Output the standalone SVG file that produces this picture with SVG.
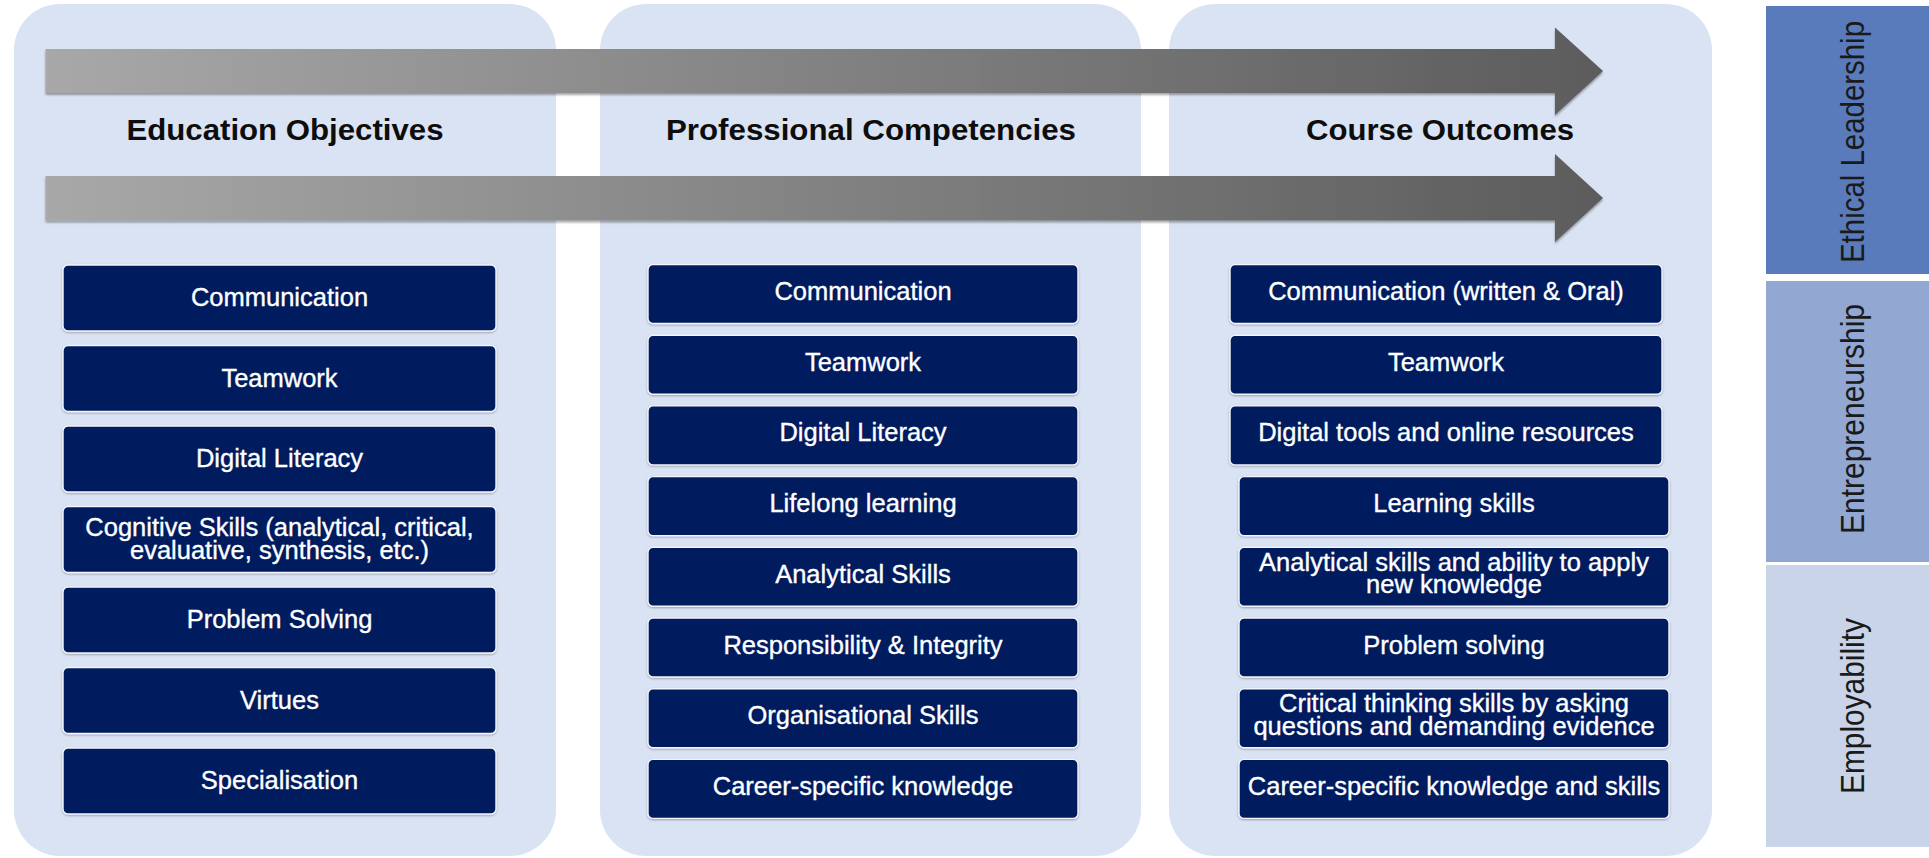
<svg xmlns="http://www.w3.org/2000/svg" width="1929" height="858" viewBox="0 0 1929 858">
  <style>
    .panel { fill: #DAE3F3; }
    .flow { fill: url(#flowGrad); filter: url(#arrowShadow); }
    .head { font-family: "Liberation Sans", Arial, sans-serif; font-weight: bold; font-size: 29px; fill: #0d0d0d; text-anchor: middle; }
    .box { fill: #021E5E; stroke: #F2F5FB; stroke-width: 1.4; filter: url(#boxShadow); }
    .lbl { font-family: "Liberation Sans", Arial, sans-serif; font-size: 25.5px; fill: #FFFFFF; text-anchor: middle; stroke: #FFFFFF; stroke-width: 0.35; }
    .bar-text { font-family: "Liberation Sans", Arial, sans-serif; font-size: 33px; fill: #1a1a1a; text-anchor: middle; }
  </style>
  <defs>
    <linearGradient id="flowGrad" gradientUnits="userSpaceOnUse" x1="45" y1="0" x2="1603" y2="0">
      <stop offset="0" stop-color="#A8A8A8"/>
      <stop offset="1" stop-color="#5C5C5C"/>
    </linearGradient>
    <filter id="arrowShadow" x="-5%" y="-30%" width="110%" height="160%">
      <feGaussianBlur in="SourceAlpha" stdDeviation="1.2"/>
      <feOffset dy="1.5" result="b"/>
      <feComponentTransfer><feFuncA type="linear" slope="0.35"/></feComponentTransfer>
      <feMerge><feMergeNode/><feMergeNode in="SourceGraphic"/></feMerge>
    </filter>
    <filter id="boxShadow" x="-5%" y="-10%" width="110%" height="125%">
      <feGaussianBlur in="SourceAlpha" stdDeviation="1"/>
      <feOffset dy="1.2"/>
      <feComponentTransfer><feFuncA type="linear" slope="0.3"/></feComponentTransfer>
      <feMerge><feMergeNode/><feMergeNode in="SourceGraphic"/></feMerge>
    </filter>
  </defs>

  <rect width="1929" height="858" fill="#FFFFFF"/>

  <!-- column backgrounds -->
  <g id="panels">
    <rect class="panel" x="14" y="4" width="542" height="852" rx="46"/>
    <rect class="panel" x="600" y="4" width="541" height="852" rx="46"/>
    <rect class="panel" x="1169" y="4" width="543" height="852" rx="46"/>
  </g>

  <!-- flow arrows -->
  <g id="connectors">
    <path class="flow" d="M45.5,49 H1555 V27.5 L1603,71 L1555,115 V93 H45.5 Z"/>
    <path class="flow" d="M45.5,176 H1555 V154 L1603,198 L1555,242 V220.5 H45.5 Z"/>
  </g>

  <!-- column headings -->
  <g id="headings">
    <text class="head" x="285" y="140" textLength="317" lengthAdjust="spacingAndGlyphs">Education Objectives</text>
    <text class="head" x="871" y="140" textLength="410" lengthAdjust="spacingAndGlyphs">Professional Competencies</text>
    <text class="head" x="1440" y="140" textLength="268" lengthAdjust="spacingAndGlyphs">Course Outcomes</text>
  </g>

  <!-- Education Objectives column -->
  <g id="edu-communication"><rect class="box" x="63" y="265" width="433" height="66" rx="5"/><text class="lbl" x="279.5" y="306">Communication</text></g>
  <g id="edu-teamwork"><rect class="box" x="63" y="345.5" width="433" height="66" rx="5"/><text class="lbl" x="279.5" y="386.5">Teamwork</text></g>
  <g id="edu-digital-literacy"><rect class="box" x="63" y="426" width="433" height="66" rx="5"/><text class="lbl" x="279.5" y="467">Digital Literacy</text></g>
  <g id="edu-cognitive-skills"><rect class="box" x="63" y="506.5" width="433" height="66" rx="5"/><text class="lbl" x="279.5" y="535.5"><tspan x="279.5">Cognitive Skills (analytical, critical,</tspan><tspan x="279.5" dy="23">evaluative, synthesis, etc.)</tspan></text></g>
  <g id="edu-problem-solving"><rect class="box" x="63" y="587" width="433" height="66" rx="5"/><text class="lbl" x="279.5" y="628">Problem Solving</text></g>
  <g id="edu-virtues"><rect class="box" x="63" y="667.5" width="433" height="66" rx="5"/><text class="lbl" x="279.5" y="708.5">Virtues</text></g>
  <g id="edu-specialisation"><rect class="box" x="63" y="748" width="433" height="66" rx="5"/><text class="lbl" x="279.5" y="789">Specialisation</text></g>

  <!-- Professional Competencies column -->
  <g id="pro-communication"><rect class="box" x="648" y="264.5" width="430" height="59" rx="5"/><text class="lbl" x="863" y="300">Communication</text></g>
  <g id="pro-teamwork"><rect class="box" x="648" y="335.2" width="430" height="59" rx="5"/><text class="lbl" x="863" y="370.7">Teamwork</text></g>
  <g id="pro-digital-literacy"><rect class="box" x="648" y="405.9" width="430" height="59" rx="5"/><text class="lbl" x="863" y="441.4">Digital Literacy</text></g>
  <g id="pro-lifelong-learning"><rect class="box" x="648" y="476.6" width="430" height="59" rx="5"/><text class="lbl" x="863" y="512.1">Lifelong learning</text></g>
  <g id="pro-analytical-skills"><rect class="box" x="648" y="547.3" width="430" height="59" rx="5"/><text class="lbl" x="863" y="582.8">Analytical Skills</text></g>
  <g id="pro-responsibility"><rect class="box" x="648" y="618" width="430" height="59" rx="5"/><text class="lbl" x="863" y="653.5">Responsibility &amp; Integrity</text></g>
  <g id="pro-organisational"><rect class="box" x="648" y="688.7" width="430" height="59" rx="5"/><text class="lbl" x="863" y="724.2">Organisational Skills</text></g>
  <g id="pro-career-knowledge"><rect class="box" x="648" y="759.4" width="430" height="59" rx="5"/><text class="lbl" x="863" y="794.9">Career-specific knowledge</text></g>

  <!-- Course Outcomes column -->
  <g id="out-communication"><rect class="box" x="1230" y="264.5" width="432" height="59" rx="5"/><text class="lbl" x="1446" y="300">Communication (written &amp; Oral)</text></g>
  <g id="out-teamwork"><rect class="box" x="1230" y="335.2" width="432" height="59" rx="5"/><text class="lbl" x="1446" y="370.7">Teamwork</text></g>
  <g id="out-digital-tools"><rect class="box" x="1230" y="405.9" width="432" height="59" rx="5"/><text class="lbl" x="1446" y="441.4">Digital tools and online resources</text></g>
  <g id="out-learning-skills"><rect class="box" x="1239" y="476.6" width="430" height="59" rx="5"/><text class="lbl" x="1454" y="512.1">Learning skills</text></g>
  <g id="out-analytical-skills"><rect class="box" x="1239" y="547.3" width="430" height="59" rx="5"/><text class="lbl" x="1454" y="570.8"><tspan x="1454">Analytical skills and ability to apply</tspan><tspan x="1454" dy="22.5">new knowledge</tspan></text></g>
  <g id="out-problem-solving"><rect class="box" x="1239" y="618" width="430" height="59" rx="5"/><text class="lbl" x="1454" y="653.5">Problem solving</text></g>
  <g id="out-critical-thinking"><rect class="box" x="1239" y="688.7" width="430" height="59" rx="5"/><text class="lbl" x="1454" y="712.2"><tspan x="1454">Critical thinking skills by asking</tspan><tspan x="1454" dy="22.5">questions and demanding evidence</tspan></text></g>
  <g id="out-career-knowledge"><rect class="box" x="1239" y="759.4" width="430" height="59" rx="5"/><text class="lbl" x="1454" y="794.9">Career-specific knowledge and skills</text></g>

  <!-- side bands -->
  <g id="band-ethical-leadership">
    <rect x="1766" y="6" width="163" height="268" fill="#5A7BBB"/>
    <text class="bar-text" transform="translate(1864,142) rotate(-90)" textLength="242" lengthAdjust="spacingAndGlyphs">Ethical Leadership</text>
  </g>
  <g id="band-entrepreneurship">
    <rect x="1766" y="281" width="163" height="281" fill="#93A7D3"/>
    <text class="bar-text" transform="translate(1864,419) rotate(-90)" textLength="230" lengthAdjust="spacingAndGlyphs">Entrepreneurship</text>
  </g>
  <g id="band-employability">
    <rect x="1766" y="565" width="163" height="282" fill="#C9D4E8"/>
    <text class="bar-text" transform="translate(1864,706) rotate(-90)" textLength="176" lengthAdjust="spacingAndGlyphs">Employability</text>
  </g>
</svg>
